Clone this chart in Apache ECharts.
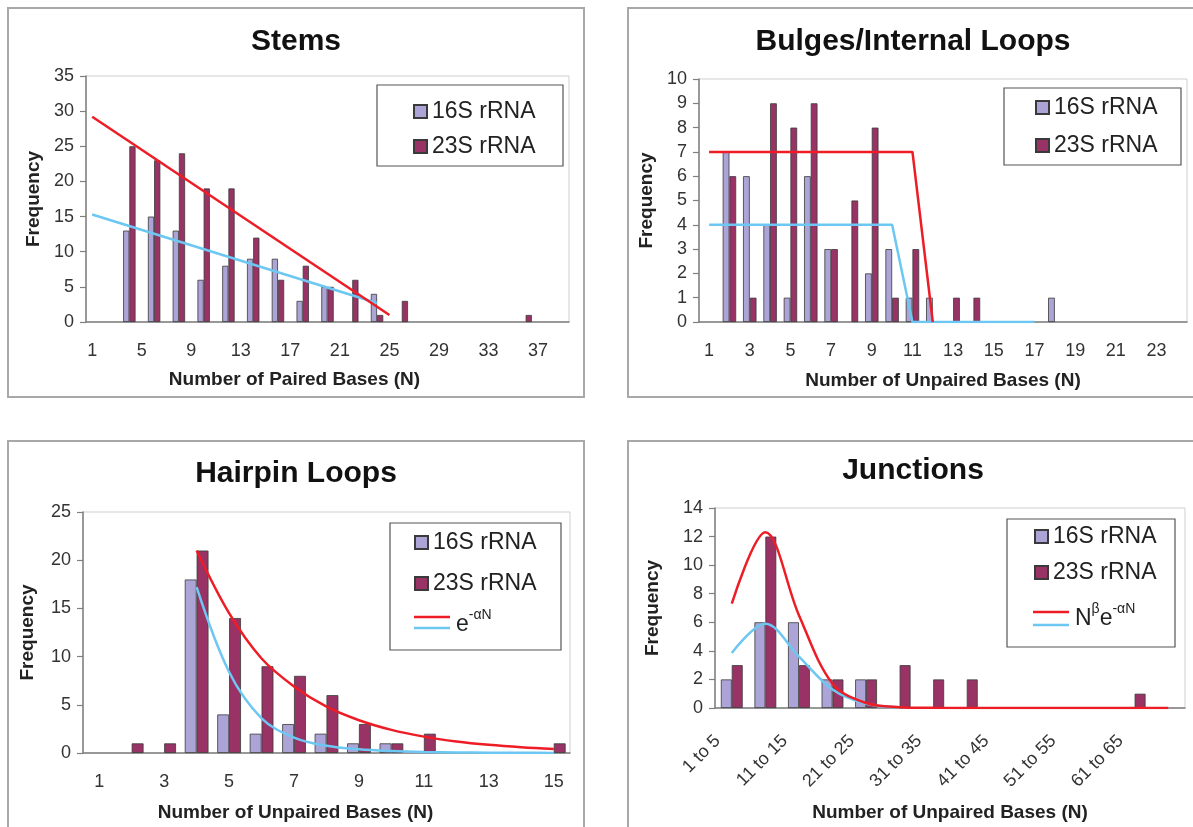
<!DOCTYPE html>
<html>
<head>
<meta charset="utf-8">
<script src="https://cdn.jsdelivr.net/npm/echarts@6/dist/echarts.min.js"></script>
<style>
  html, body { margin: 0; padding: 0; background: #fff; }
  body { width: 1193px; height: 827px; position: relative; overflow: hidden; }
  .panel { position: absolute; box-sizing: border-box; border: 2px solid #a8a8a8; background: #fff; }
  #c1 { left: 7px; top: 7px; width: 578px; height: 391px; }
  #c2 { left: 627px; top: 7px; width: 572px; height: 391px; }
  #c3 { left: 7px; top: 440px; width: 578px; height: 400px; }
  #c4 { left: 627px; top: 440px; width: 572px; height: 400px; }
</style>
</head>
<body>
<div id="c1" class="panel"></div>
<div id="c2" class="panel"></div>
<div id="c3" class="panel"></div>
<div id="c4" class="panel"></div>
<script>
// ---- data ----
const stemsCats = ['1','2','3','4','5','6','7','8','9','10','11','12','13','14','15','16','17','18','19','20',
  '21','22','23','24','25','26','27','28','29','30','31','32','33','34','35','36','37','38','39'];
const stems16S = [0,0,0,13,0,15,0,13,0,6, 0,8,0,9,0,9,0,3,0,5, 0,0,0,4,0,0,0,0,0,0, 0,0,0,0,0,0,0,0,0];
const stems23S = [0,0,0,25,0,23,0,24,0,19, 0,19,0,12,0,6,0,8,0,5, 0,6,0,1,0,3,0,0,0,0, 0,0,0,0,0,1,0,0,0];
const stemsTrend23 = [['1', 29.2], ['25', 1.0]];
const stemsTrend16 = [['1', 15.3], ['24', 2.7]];

const bulgeCats = ['1','2','3','4','5','6','7','8','9','10','11','12','13','14','15','16','17','18','19','20','21','22','23','24'];
const bulge16S = [0,7,6,4,1,6,3,0,2,3, 1,1,0,0,0,0,0,1,0,0, 0,0,0,0];
const bulge23S = [0,6,1,9,8,9,3,5,8,1, 3,0,1,1,0,0,0,0,0,0, 0,0,0,0];
const bulgeFit23 = [7,7,7,7,7,7,7,7,7,7,7,0];
const bulgeFit16 = [4,4,4,4,4,4,4,4,4,4,0,0,0,0,0,0,0];

const hairCats = ['1','2','3','4','5','6','7','8','9','10','11','12','13','14','15'];
const hair16S = [0,0,0,18,4,2,3,2,1,1,0,0,0,0,0];
const hair23S = [0,1,1,21,14,9,8,6,3,1,2,0,0,0,1];
const hairFit23 = [null,null,null,21,14.5,9.8,6.9,4.8,3.4,2.4,1.7,1.2,0.85,0.6,0.42];
const hairFit16 = [null,null,null,17.2,8.4,3.6,1.6,0.75,0.38,0.2,0.1,0.06,0.03,0.02,0.01];

const juncCats = ['1 to 5','6 to 10','11 to 15','16 to 20','21 to 25','26 to 30','31 to 35',
  '36 to 40','41 to 45','46 to 50','51 to 55','56 to 60','61 to 65','66 to 70'];
const junc16S = [2,6,6,2,2,0,0,0,0,0,0,0,0,0];
const junc23S = [3,12,3,2,2,3,2,2,0,0,0,0,1,0];
const juncFit23 = [7.3,12.3,6.5,1.7,0.35,0.06,0.01,0,0,0,0,0,0,0];
const juncFit16 = [3.85,5.9,3.6,1.3,0.3,0.05];

// ---- styling ----
const FONT = 'Liberation Sans, Arial, sans-serif';
const C16 = '#aca4d6';
const C23 = '#993366';
const RED = '#ee1c25';
const BLUE = '#6cc7f2';
const AXIS = '#7f7f7f';

// empty bins: no bar at all (avoids a hairline border on the axis)
function bars(arr) {
    return arr.map(function (v) { return v === 0 ? '-' : v; });
}

function buildOption(p) {
    let series = [
        {
            name: '16S rRNA', type: 'bar', data: bars(p.s16), barGap: '0%', barCategoryGap: p.gap,
            itemStyle: { color: C16, borderColor: '#3a3a3a', borderWidth: 0.8 }
        },
        {
            name: '23S rRNA', type: 'bar', data: bars(p.s23), barGap: '0%', barCategoryGap: p.gap,
            itemStyle: { color: C23, borderColor: '#3a3a3a', borderWidth: 0.8 }
        },
        {
            name: 'fit23', type: 'line', data: p.fit23, symbol: 'none', smooth: p.smooth,
            connectNulls: true, lineStyle: { color: RED, width: 2.5 }, z: 5
        },
        {
            name: 'fit16', type: 'line', data: p.fit16, symbol: 'none', smooth: p.smooth,
            connectNulls: true, lineStyle: { color: BLUE, width: 2.5 }, z: 4
        }
    ];
    let graphic = [
        {
            type: 'rect', z: 3,
            shape: { x: p.box[0], y: p.box[1], width: p.box[2], height: p.box[3] },
            style: { fill: '#fff', stroke: '#555', lineWidth: 1.2 }
        }
    ];
    if (p.formula) {
        let f = p.formula;
        graphic.push(
            { type: 'line', z: 5, shape: { x1: f.x, y1: f.y1, x2: f.x + 36, y2: f.y1 }, style: { stroke: RED, lineWidth: 2.5 } },
            { type: 'line', z: 5, shape: { x1: f.x, y1: f.y2, x2: f.x + 36, y2: f.y2 }, style: { stroke: BLUE, lineWidth: 2.5 } },
            {
                type: 'text', z: 5, x: f.x + 42, y: f.ty,
                style: {
                    text: f.text, fill: '#222', verticalAlign: 'middle',
                    rich: {
                        b: { fontSize: 23, fontFamily: FONT, fill: '#222', lineHeight: 28, verticalAlign: 'bottom' },
                        s: { fontSize: 14, fontFamily: FONT, fill: '#222', lineHeight: 28, verticalAlign: 'top' }
                    }
                }
            }
        );
    }
    return {
        animation: false,
        backgroundColor: '#fff',
        title: {
            text: p.title, left: 'center', top: p.titleTop, padding: 0,
            textStyle: { fontFamily: FONT, fontSize: 30, fontWeight: 'bold', color: '#111' }
        },
        legend: {
            data: ['16S rRNA', '23S rRNA'], orient: 'vertical', left: p.legend[0], top: p.legend[1],
            padding: 0, itemGap: p.legend[2], itemWidth: 13, itemHeight: 13, icon: 'rect', z: 6,
            textStyle: { fontFamily: FONT, fontSize: 23, color: '#222' }
        },
        graphic: graphic,
        grid: {
            left: p.grid[0], top: p.grid[1], width: p.grid[2], height: p.grid[3],
            show: true, borderColor: '#cfcfcf', borderWidth: 1
        },
        xAxis: {
            type: 'category', data: p.cats, boundaryGap: true,
            name: p.xName, nameLocation: 'middle', nameGap: p.xNameGap,
            nameTextStyle: {
                fontFamily: FONT, fontSize: 19, fontWeight: 'bold', color: '#222',
                padding: [0, p.xNameShift, 0, 0]
            },
            axisLine: { lineStyle: { color: AXIS, width: 1.5 } },
            axisTick: { interval: 0, length: 6, lineStyle: { color: AXIS, width: 1.2 } },
            axisLabel: {
                interval: p.labelInterval, rotate: p.rotate || 0, margin: p.labelMargin,
                padding: p.labelPad || 0, fontFamily: FONT, fontSize: 18, color: '#333'
            }
        },
        yAxis: {
            type: 'value', min: 0, max: p.yMax, interval: p.yStep,
            name: 'Frequency', nameLocation: 'middle', nameGap: p.yNameGap,
            nameTextStyle: { fontFamily: FONT, fontSize: 19, fontWeight: 'bold', color: '#222' },
            axisLine: { show: true, lineStyle: { color: AXIS, width: 1.5 } },
            axisTick: { show: true, length: 6, lineStyle: { color: AXIS, width: 1.2 } },
            axisLabel: { margin: 12, fontFamily: FONT, fontSize: 18, color: '#333' },
            splitLine: { show: false }
        },
        series: series
    };
}

// panel origins (inside the 2px borders): c1 (9,9), c2 (629,9), c3 (9,442), c4 (629,442)
const panels = [
    {
        id: 'c1', title: 'Stems', titleTop: 18, cats: stemsCats, s16: stems16S, s23: stems23S,
        fit23: stemsTrend23, fit16: stemsTrend16, smooth: false, gap: '0%',
        grid: [77, 67, 483, 246], yMax: 35, yStep: 5, labelInterval: 3, labelMargin: 20,
        xName: 'Number of Paired Bases (N)', xNameGap: 48, xNameShift: 66, yNameGap: 43,
        legend: [404, 91, 12], box: [368, 76, 186, 81]
    },
    {
        id: 'c2', title: 'Bulges/Internal Loops', titleTop: 18, cats: bulgeCats, s16: bulge16S, s23: bulge23S,
        fit23: bulgeFit23, fit16: bulgeFit16, smooth: false, gap: '34%',
        grid: [66, 70, 492, 243], yMax: 10, yStep: 1, labelInterval: 1, labelMargin: 20,
        xName: 'Number of Unpaired Bases (N)', xNameGap: 49, xNameShift: 0, yNameGap: 40,
        legend: [406, 87, 15], box: [375, 79, 177, 77]
    },
    {
        id: 'c3', title: 'Hairpin Loops', titleTop: 17, cats: hairCats, s16: hair16S, s23: hair23S,
        fit23: hairFit23, fit16: hairFit16, smooth: 0.35, gap: '27%',
        grid: [74, 70, 487, 241], yMax: 25, yStep: 5, labelInterval: 1, labelMargin: 20,
        xName: 'Number of Unpaired Bases (N)', xNameGap: 50, xNameShift: 62, yNameGap: 46,
        legend: [405, 89, 18], box: [381, 81, 171, 127],
        formula: { x: 405, y1: 175, y2: 186, ty: 180, text: '{b|e}{s|-αN}' }
    },
    {
        id: 'c4', title: 'Junctions', titleTop: 14, cats: juncCats, s16: junc16S, s23: junc23S,
        fit23: juncFit23, fit16: juncFit16, smooth: 0.35, gap: '35%',
        grid: [86, 66, 470, 200], yMax: 14, yStep: 2, labelInterval: 1, labelMargin: 16, rotate: 45,
        labelPad: [0, 20, 0, 0],
        xName: 'Number of Unpaired Bases (N)', xNameGap: 95, xNameShift: 0, yNameGap: 53,
        legend: [405, 83, 13], box: [378, 77, 168, 128],
        formula: { x: 404, y1: 170, y2: 183, ty: 174, text: '{b|N}{s|β}{b|e}{s|-αN}' }
    }
];

panels.forEach(function (p) {
    var chart = echarts.init(document.getElementById(p.id));
    chart.setOption(buildOption(p));
    window.addEventListener('resize', function () {
        chart.resize();
    });
});
</script>
</body>
</html>
